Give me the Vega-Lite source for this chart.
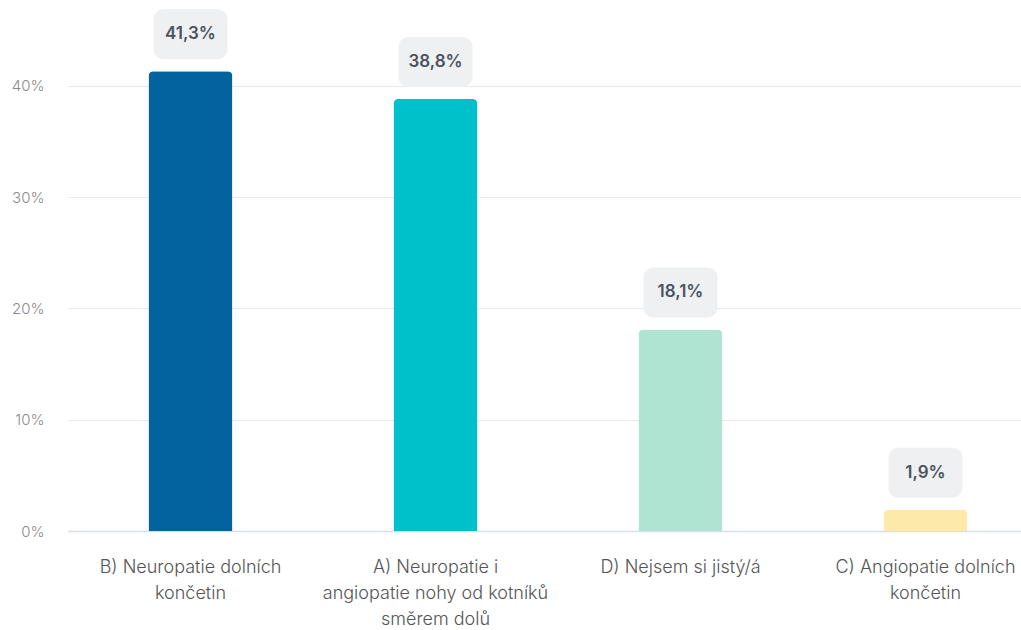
{
  "$schema": "https://vega.github.io/schema/vega-lite/v6.json",
  "width": 953,
  "height": 501,
  "autosize": {"type": "none"},
  "padding": {"left": 68, "top": 30, "right": 0, "bottom": 99},
  "background": "#ffffff",
  "config": {
    "locale": {"number": {"decimal": ",", "thousands": " ", "grouping": [3], "currency": ["", " Kč"]}},
    "view": {"stroke": null},
    "font": "Inter"
  },
  "data": {
    "values": [
      {"category": "B) Neuropatie dolních končetin", "value": 0.413},
      {"category": "A) Neuropatie i angiopatie nohy od kotníků směrem dolů", "value": 0.388},
      {"category": "D) Nejsem si jistý/á", "value": 0.181},
      {"category": "C) Angiopatie dolních končetin", "value": 0.019}
    ]
  },
  "encoding": {
    "x": {
      "field": "category",
      "type": "nominal",
      "sort": null,
      "scale": {"range": [0, 980], "paddingOuter": 0, "paddingInner": 0},
      "axis": {
        "title": null,
        "labelAngle": 0,
        "ticks": false,
        "domain": true,
        "domainColor": "#d9dee9",
        "domainWidth": 1.5,
        "labelFont": "Inter",
        "labelFontSize": 18,
        "labelFontWeight": 300,
        "labelColor": "#555555",
        "labelPadding": 27,
        "labelLineHeight": 26,
        "labelLimit": 300,
        "labelExpr": "datum.value == 'B) Neuropatie dolních končetin' ? ['B) Neuropatie dolních', 'končetin'] : datum.value == 'A) Neuropatie i angiopatie nohy od kotníků směrem dolů' ? ['A) Neuropatie i', 'angiopatie nohy od kotníků', 'směrem dolů'] : datum.value == 'C) Angiopatie dolních končetin' ? ['C) Angiopatie dolních', 'končetin'] : datum.value"
      }
    },
    "y": {
      "field": "value",
      "type": "quantitative",
      "scale": {"domain": [0, 0.45], "nice": false},
      "axis": {
        "title": null,
        "values": [0, 0.1, 0.2, 0.3, 0.4],
        "format": ".0%",
        "ticks": false,
        "domain": false,
        "gridColor": "#e9e9e9",
        "gridWidth": 1,
        "labelFont": "Inter",
        "labelFontSize": 15,
        "labelFontWeight": 300,
        "labelColor": "#8a8a8a",
        "labelPadding": 24
      }
    }
  },
  "layer": [
    {
      "mark": {"type": "bar", "width": 84, "cornerRadiusTopLeft": 5, "cornerRadiusTopRight": 5},
      "encoding": {
        "color": {
          "field": "category",
          "type": "nominal",
          "sort": null,
          "legend": null,
          "scale": {
            "domain": ["B) Neuropatie dolních končetin", "A) Neuropatie i angiopatie nohy od kotníků směrem dolů", "D) Nejsem si jistý/á", "C) Angiopatie dolních končetin"],
            "range": ["#03639e", "#00c0c9", "#b0e4d2", "#fde9a9"]
          }
        }
      }
    },
    {
      "mark": {"type": "bar", "width": 74, "cornerRadius": 10, "color": "#eef0f1", "yOffset": -62, "y2Offset": -12},
      "encoding": {
        "y2": {"field": "value"}
      }
    },
    {
      "mark": {"type": "text", "font": "Inter", "fontSize": 17, "fontWeight": 600, "color": "#4b5361", "baseline": "middle", "align": "center", "yOffset": -37},
      "encoding": {
        "text": {"field": "value", "type": "quantitative", "format": ".1%"}
      }
    }
  ]
}
